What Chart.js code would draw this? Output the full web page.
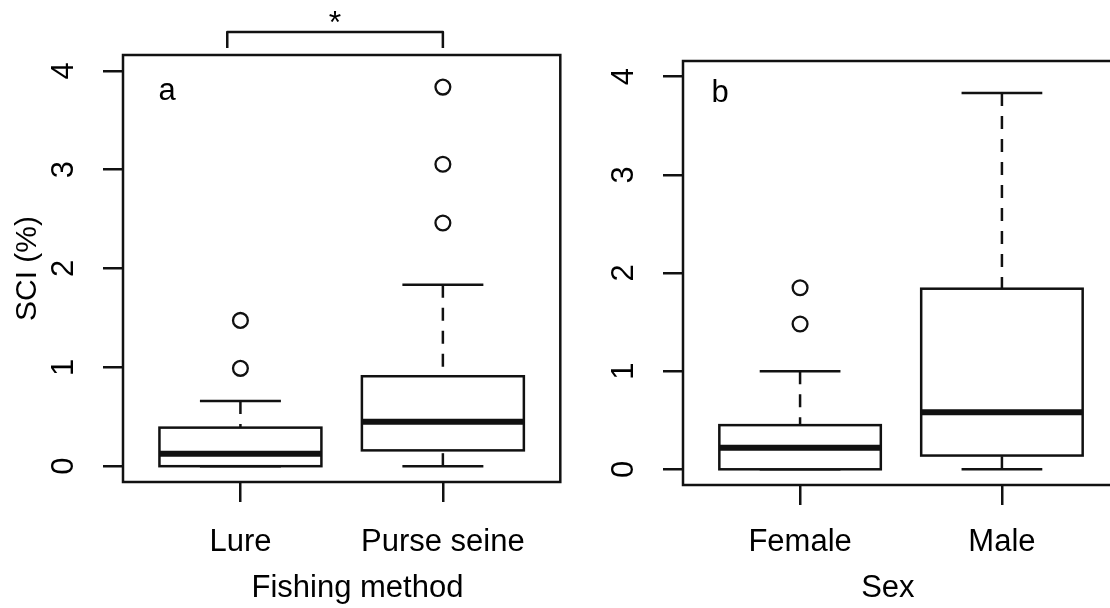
<!DOCTYPE html>
<html>
<head>
<meta charset="utf-8">
<script src="https://cdn.jsdelivr.net/npm/chart.js@4/dist/chart.umd.min.js"></script>
<style>
  html, body { margin: 0; padding: 0; background: #fff; overflow: hidden; width: 1110px; height: 608px; }
  #wrap { position: relative; width: 1110px; height: 608px; overflow: hidden; }
  canvas { position: absolute; top: 0; }
  #panelA { left: 0; }
  #panelB { left: 570px; }
</style>
</head>
<body>
<div id="wrap">
  <canvas id="panelA" width="570" height="608"></canvas>
  <canvas id="panelB" width="560" height="608"></canvas>
</div>
<script>
// Panel a: SCI (%) by fishing method
const methodLabels = ['Lure', 'Purse seine'];
const methodMin = [0, 0];
const methodQ1 = [0, 0.16];
const methodMedian = [0.125, 0.45];
const methodQ3 = [0.39, 0.91];
const methodMax = [0.66, 1.835];
const methodOutliers = [[0.99, 1.475], [2.46, 3.055, 3.835]];

// Panel b: SCI (%) by sex
const sexLabels = ['Female', 'Male'];
const sexMin = [0, 0];
const sexQ1 = [0, 0.14];
const sexMedian = [0.22, 0.58];
const sexQ3 = [0.45, 1.84];
const sexMax = [1.0, 3.835];
const sexOutliers = [[1.48, 1.85], []];

const yTickValues = [0, 1, 2, 3, 4];

const INK = '#111';
const LINE = 2.5;
const FONT = "'Liberation Sans', Arial, Helvetica, sans-serif";

function seg(ctx, x1, y1, x2, y2) {
  ctx.beginPath();
  ctx.moveTo(x1, y1);
  ctx.lineTo(x2, y2);
  ctx.stroke();
}

// Box, whiskers, staples and median for each group, placed through the chart scales
const boxPlugin = {
  id: 'boxes',
  beforeDatasetsDraw(chart, args, opts) {
    const { ctx, scales: { x, y } } = chart;
    const unit = x.getPixelForValue(1) - x.getPixelForValue(0);
    const half = 0.4 * unit;
    const capHalf = 0.2 * unit;
    const s = opts.stats;
    ctx.save();
    ctx.strokeStyle = INK;
    ctx.lineCap = 'butt';
    s.q1.forEach((q1v, i) => {
      const cx = x.getPixelForValue(i + 1);
      const pMin = y.getPixelForValue(s.min[i]);
      const pQ1 = y.getPixelForValue(q1v);
      const pMed = y.getPixelForValue(s.median[i]);
      const pQ3 = y.getPixelForValue(s.q3[i]);
      const pMax = y.getPixelForValue(s.max[i]);
      // dashed whiskers, drawn from the staple toward the hinge
      ctx.lineWidth = LINE;
      ctx.setLineDash([13, 10]);
      if (pMax < pQ3) seg(ctx, cx, pMax, cx, pQ3);
      if (pMin > pQ1) seg(ctx, cx, pMin, cx, pQ1);
      ctx.setLineDash([]);
      // staples
      seg(ctx, cx - capHalf, pMax, cx + capHalf, pMax);
      seg(ctx, cx - capHalf, pMin, cx + capHalf, pMin);
      // box
      ctx.fillStyle = '#fff';
      ctx.fillRect(cx - half, pQ3, 2 * half, pQ1 - pQ3);
      ctx.strokeRect(cx - half, pQ3, 2 * half, pQ1 - pQ3);
      // median
      ctx.lineWidth = 6;
      seg(ctx, cx - half, pMed, cx + half, pMed);
    });
    ctx.restore();
  }
};

// Plot frame, panel letter, x-axis title and optional significance bracket
const decorPlugin = {
  id: 'decor',
  afterDraw(chart, args, opts) {
    const { ctx, chartArea: a, scales: { x } } = chart;
    ctx.save();
    ctx.strokeStyle = INK;
    ctx.fillStyle = '#000';
    ctx.lineWidth = LINE;
    ctx.strokeRect(a.left, a.top, a.right - a.left, a.bottom - a.top);

    ctx.font = '31px ' + FONT;
    ctx.textAlign = 'center';
    ctx.textBaseline = 'alphabetic';
    ctx.fillText(opts.letter, a.left + opts.letterDx, a.top + opts.letterDy);

    ctx.fillText(opts.xTitle, x.getPixelForValue(opts.xTitleAt), opts.xTitleBaseline);

    if (opts.bracket) {
      const b = opts.bracket;
      const x1 = x.getPixelForValue(b.from);
      const x2 = x.getPixelForValue(b.to);
      const yTop = a.top - b.rise;
      const yEnd = a.top - b.gap;
      ctx.lineJoin = 'round';
      ctx.beginPath();
      ctx.moveTo(x1, yEnd);
      ctx.lineTo(x1, yTop);
      ctx.lineTo(x2, yTop);
      ctx.lineTo(x2, yEnd);
      ctx.stroke();
      ctx.font = '32px ' + FONT;
      ctx.fillText(b.mark, (x1 + x2) / 2, yTop + 1);
    }
    ctx.restore();
  }
};

function outlierPoints(groups) {
  const pts = [];
  groups.forEach((vals, i) => vals.forEach(v => pts.push({ x: i + 1, y: v })));
  return pts;
}

function makePanel(canvasId, cfg) {
  const tickFont = { family: FONT, size: 31 };
  return new Chart(document.getElementById(canvasId), {
    type: 'scatter',
    data: {
      datasets: [{
        data: outlierPoints(cfg.outliers),
        pointStyle: 'circle',
        pointRadius: 7.4,
        pointBorderWidth: 2.3,
        pointBorderColor: INK,
        pointBackgroundColor: 'rgba(0,0,0,0)'
      }]
    },
    options: {
      responsive: false,
      animation: false,
      events: [],
      layout: { padding: cfg.padding },
      plugins: {
        legend: { display: false },
        tooltip: { enabled: false },
        boxes: { stats: cfg.stats },
        decor: cfg.decor
      },
      scales: {
        x: {
          type: 'linear',
          min: 0.42,
          max: 2.58,
          afterBuildTicks: s => { s.ticks = cfg.labels.map((_, i) => ({ value: i + 1 })); },
          afterFit: s => { s.height = cfg.xAxisHeight; },
          ticks: {
            autoSkip: false,
            minRotation: 0,
            maxRotation: 0,
            padding: cfg.xTickPadding,
            color: '#000',
            font: tickFont,
            callback: (v, i) => cfg.labels[i]
          },
          grid: { drawOnChartArea: false, drawTicks: true, tickLength: 20, color: INK, lineWidth: LINE },
          border: { display: false }
        },
        y: {
          type: 'linear',
          min: -0.16,
          max: 4.16,
          afterBuildTicks: s => { s.ticks = yTickValues.map(v => ({ value: v })); },
          afterFit: s => { s.width = cfg.yAxisWidth; },
          ticks: {
            minRotation: 90,
            maxRotation: 90,
            crossAlign: 'center',
            padding: 30,
            color: '#000',
            font: tickFont,
            callback: v => String(v)
          },
          grid: { drawOnChartArea: false, drawTicks: true, tickLength: 20, color: INK, lineWidth: LINE },
          border: { display: false },
          title: {
            display: !!cfg.yTitle,
            text: cfg.yTitle || '',
            color: '#000',
            font: { family: FONT, size: 30 },
            padding: { top: 10, bottom: 0 }
          }
        }
      }
    },
    plugins: [boxPlugin, decorPlugin]
  });
}

makePanel('panelA', {
  labels: methodLabels,
  stats: { min: methodMin, q1: methodQ1, median: methodMedian, q3: methodQ3, max: methodMax },
  outliers: methodOutliers,
  padding: { left: 0, top: 55, right: 5, bottom: 0 },
  yAxisWidth: 123,
  xAxisHeight: 126,
  xTickPadding: 22,
  yTitle: 'SCI (%)',
  decor: {
    letter: 'a', letterDx: 44, letterDy: 45,
    xTitle: 'Fishing method', xTitleAt: 1.578, xTitleBaseline: 597,
    bracket: { from: 0.935, to: 2.0, rise: 23, gap: 7, mark: '*' }
  }
});

makePanel('panelB', {
  labels: sexLabels,
  stats: { min: sexMin, q1: sexQ1, median: sexMedian, q3: sexQ3, max: sexMax },
  outliers: sexOutliers,
  padding: { left: 0, top: 61, right: 11, bottom: 0 },
  yAxisWidth: 113,
  xAxisHeight: 123,
  xTickPadding: 19,
  yTitle: '',
  decor: {
    letter: 'b', letterDx: 37, letterDy: 41,
    xTitle: 'Sex', xTitleAt: 1.435, xTitleBaseline: 597,
    bracket: null
  }
});
</script>
</body>
</html>
